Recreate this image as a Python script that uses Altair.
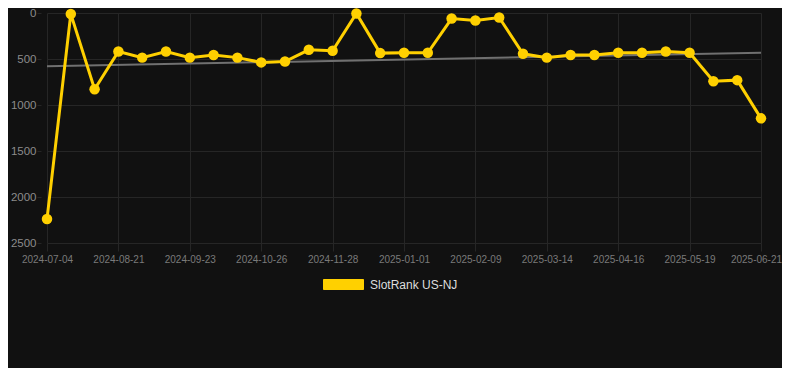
import altair as alt
import pandas as pd

dates = [
    "2024-07-04", "2024-07-20", "2024-08-05", "2024-08-21", "2024-09-01", "2024-09-12",
    "2024-09-23", "2024-10-04", "2024-10-15", "2024-10-26", "2024-11-06", "2024-11-17",
    "2024-11-28", "2024-12-09", "2024-12-20", "2025-01-01", "2025-01-14", "2025-01-27",
    "2025-02-09", "2025-02-20", "2025-03-03", "2025-03-14", "2025-03-25", "2025-04-05",
    "2025-04-16", "2025-04-27", "2025-05-08", "2025-05-19", "2025-05-30", "2025-06-10",
    "2025-06-21",
]
ranks = [
    2240, 10, 829, 418, 485, 418, 485, 456, 485, 537, 527, 400, 411, 5, 436, 432,
    432, 60, 81, 49, 443, 485, 456, 456, 432, 432, 418, 432, 741, 730, 1145,
]
tick_dates = dates[::3]
y_ticks = [0, 500, 1000, 1500, 2000, 2500]
trend_dates = [dates[0], dates[-1]]
trend_values = [580, 432]
series_name = "SlotRank US-NJ"

df = pd.DataFrame({"date": dates, "rank": ranks, "series": series_name})
trend_df = pd.DataFrame({"date": trend_dates, "rank": trend_values})

FONT = "Liberation Sans, Arial, sans-serif"
GRID = "#262626"

x_scale = alt.Scale(type="point", domain=dates, range=[6, 720], padding=0)
y_scale = alt.Scale(domain=[0, 2500], reverse=True, nice=False)

x_axis = alt.Axis(
    values=tick_dates, labelAngle=0, title=None, grid=True, gridColor=GRID,
    domain=False, ticks=True, tickColor=GRID, tickSize=8, labelPadding=3,
    labelColor="#7a7a7a", labelFontSize=10, labelFont=FONT,
    labelOffset=alt.expr(f"datum.value == '{dates[-1]}' ? -5 : 0"),
)
y_axis = alt.Axis(
    values=y_ticks, format="d", title=None, grid=True, gridColor=GRID,
    domain=False, ticks=True, tickColor=GRID, tickSize=4, labelPadding=1,
    labelColor="#8c8c8c", labelFontSize=11.5, labelFont=FONT,
)

trend = alt.Chart(trend_df).mark_line(color="#707070", strokeWidth=2).encode(
    x=alt.X("date:O", sort=dates, scale=x_scale, axis=x_axis),
    y=alt.Y("rank:Q", scale=y_scale, axis=y_axis),
)

color = alt.Color(
    "series:N",
    scale=alt.Scale(domain=[series_name], range=["#FFD000"]),
    legend=alt.Legend(
        title=None, orient="none", legendX=292, legendY=261,
        symbolType="M-2,-0.5L2,-0.5L2,0.5L-2,0.5Z", symbolSize=400,
        symbolFillColor="#FFD000", symbolStrokeColor="#E0B400", symbolStrokeWidth=1,
        labelColor="#dddddd", labelFontSize=12, labelFont=FONT, labelOffset=16,
    ),
)

line = alt.Chart(df).mark_line(strokeWidth=3).encode(
    x=alt.X("date:O", sort=dates),
    y=alt.Y("rank:Q"),
    color=color,
)
points = alt.Chart(df).mark_circle(size=110, opacity=1).encode(
    x=alt.X("date:O", sort=dates),
    y=alt.Y("rank:Q"),
    color=alt.Color("series:N", legend=None),
)

chart = (
    alt.layer(trend, line, points)
    .properties(
        width=741, height=230, background="#111111",
        autosize=alt.AutoSizeParams(type="none"),
        padding={"left": 33, "top": 5, "right": 0, "bottom": 125},
    )
    .configure_view(stroke=None)
)

chart.save("out.html", embed_options={"renderer": "svg", "actions": False})
